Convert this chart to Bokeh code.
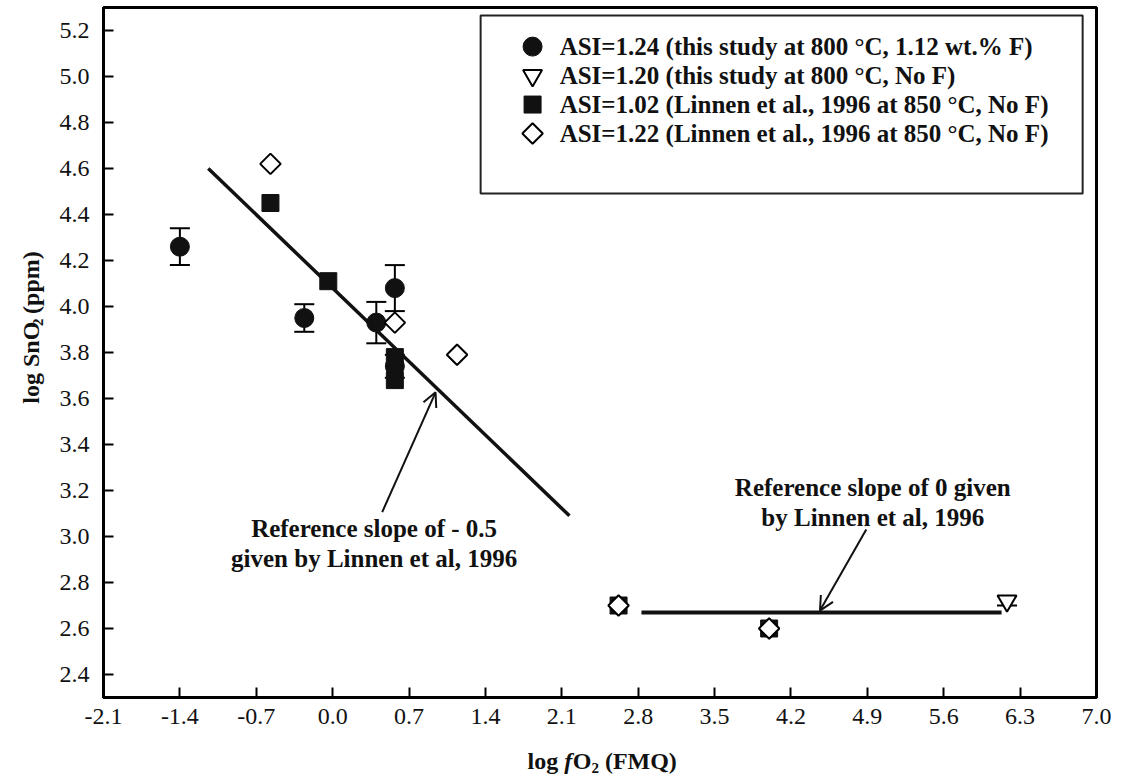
import numpy as np
from bokeh.plotting import figure
from bokeh.layouts import row, column
from bokeh.models import (Range1d, FixedTicker, PrintfTickFormatter, Whisker, TeeHead,
                          Arrow, OpenHead, ColumnDataSource)
from bokeh.core.properties import value
from bokeh.embed import file_html
from bokeh.resources import INLINE

# ---- data: log fO2 (FMQ) vs log SnO2 (ppm) ----
# ASI=1.24, this study, 800 °C, 1.12 wt.% F (with 1-sigma error bars)
circle_x = [-1.40, -0.26, 0.40, 0.57, 0.57]
circle_y = [4.26, 3.95, 3.93, 4.08, 3.74]
circle_err = [0.08, 0.06, 0.09, 0.10, 0.05]

# ASI=1.20, this study, 800 °C, no F
triangle_x = [6.18]
triangle_y = [2.72]
triangle_err = [0.02]

# ASI=1.02, Linnen et al. (1996), 850 °C, no F
square_x = [-0.57, -0.04, 0.57, 0.57, 2.62, 4.00]
square_y = [4.45, 4.11, 3.78, 3.68, 2.70, 2.60]

# ASI=1.22, Linnen et al. (1996), 850 °C, no F
diamond_x = [-0.57, 0.57, 1.14, 2.62, 4.00]
diamond_y = [4.62, 3.93, 3.79, 2.70, 2.60]

# reference slopes from Linnen et al. (1996)
slope_line_x = [-1.14, 2.17]
slope_line_y = [4.60, 3.09]
flat_line_x = [2.83, 6.13]
flat_line_y = [2.67, 2.67]

x_ticks = [-2.1, -1.4, -0.7, 0.0, 0.7, 1.4, 2.1, 2.8, 3.5, 4.2, 4.9, 5.6, 6.3, 7.0]
y_ticks = [2.4, 2.6, 2.8, 3.0, 3.2, 3.4, 3.6, 3.8, 4.0, 4.2, 4.4, 4.6, 4.8, 5.0, 5.2]

legend_labels = [
    "ASI=1.24 (this study at  800 °C, 1.12 wt.% F)",
    "ASI=1.20 (this study at 800 °C, No F)",
    "ASI=1.02 (Linnen et al., 1996 at 850 °C, No F)",
    "ASI=1.22 (Linnen et al., 1996 at 850 °C, No F)",
]

SERIF = "Liberation Serif"
W, H = 1124, 782
YT_W = 52          # strip for the vertical axis title
XT_H = 40          # strip for the horizontal axis title
MAIN_W, MAIN_H = W - YT_W, H - XT_H

p = figure(width=MAIN_W, height=MAIN_H, output_backend="svg", toolbar_location=None,
           x_range=Range1d(-2.1, 7.0), y_range=Range1d(2.3, 5.3),
           min_border_left=103 - YT_W, min_border_right=28,
           min_border_top=7, min_border_bottom=MAIN_H - 697)
p.background_fill_color = "white"
p.border_fill_color = "white"
p.outline_line_color = "black"
p.outline_line_width = 3
p.xgrid.visible = False
p.ygrid.visible = False

for ax, ticks, standoff in ((p.xaxis, x_ticks, 11), (p.yaxis, y_ticks, 14)):
    ax.ticker = FixedTicker(ticks=ticks)
    ax.formatter = PrintfTickFormatter(format="%.1f")
    ax.axis_line_width = 3
    ax.axis_line_color = "black"
    ax.major_tick_in = 10
    ax.major_tick_out = 0
    ax.major_tick_line_width = 2
    ax.major_tick_line_color = "black"
    ax.minor_tick_line_color = None
    ax.major_label_text_font = SERIF
    ax.major_label_text_font_size = "24px"
    ax.major_label_text_color = "#111111"
    ax.major_label_standoff = standoff

# reference lines
p.line(slope_line_x, slope_line_y, line_color="#111111", line_width=3.5)
p.line(flat_line_x, flat_line_y, line_color="#111111", line_width=4)

# error bars
def add_errors(xs, ys, errs):
    src = ColumnDataSource(dict(x=xs,
                                lo=[y - e for y, e in zip(ys, errs)],
                                hi=[y + e for y, e in zip(ys, errs)]))
    w = Whisker(source=src, base="x", lower="lo", upper="hi", dimension="height",
                line_color="black", line_width=2, level="underlay",
                upper_head=TeeHead(size=20, line_width=2, line_color="black"),
                lower_head=TeeHead(size=20, line_width=2, line_color="black"))
    p.add_layout(w)

add_errors(circle_x, circle_y, circle_err)
add_errors(triangle_x, triangle_y, triangle_err)

# markers
CIRCLE = dict(marker="circle", size=19, fill_color="#111111", line_color="#111111")
TRIANGLE = dict(marker="inverted_triangle", size=19, fill_color="white",
                line_color="black", line_width=2)
SQUARE = dict(marker="square", size=17, fill_color="#111111", line_color="#111111")
DIAMOND = dict(marker="square", angle=np.pi / 4, size=14.5, fill_color="white",
               line_color="black", line_width=2)

p.scatter(circle_x, circle_y, **CIRCLE)
p.scatter(triangle_x, triangle_y, **TRIANGLE)
p.scatter(square_x, square_y, **SQUARE)
p.scatter(diamond_x, diamond_y, **DIAMOND)

# annotations
TXT = dict(text_font=value(SERIF), text_font_style="bold", text_font_size="25px",
           text_color="#111111", text_align="center", text_baseline="middle")
p.text(x=[0.38, 0.38], y=[3.035, 2.905],
       text=["Reference slope of - 0.5", "given by Linnen et al, 1996"], **TXT)
p.text(x=[4.95, 4.95], y=[3.213, 3.083],
       text=["Reference slope of 0 given", "by Linnen et al, 1996"], **TXT)

p.add_layout(Arrow(end=OpenHead(size=14, line_width=2, line_color="#111111"),
                   x_start=0.454, y_start=3.106, x_end=0.943, y_end=3.627,
                   line_width=2, line_color="#111111"))
p.add_layout(Arrow(end=OpenHead(size=14, line_width=2, line_color="#111111"),
                   x_start=4.89, y_start=3.03, x_end=4.466, y_end=2.678,
                   line_width=2, line_color="#111111"))

# legend box
p.quad(left=1.356, right=6.873, top=5.265, bottom=4.491,
       fill_color="white", line_color="#222222", line_width=2)
leg_rows = [5.130, 5.004, 4.878, 4.752]
leg_mx, leg_tx = 1.832, 2.08
for style, yy in zip((CIRCLE, TRIANGLE, SQUARE, DIAMOND), leg_rows):
    p.scatter([leg_mx], [yy], **style)
p.text(x=[leg_tx] * 4, y=leg_rows, text=legend_labels,
       **dict(TXT, text_align="left", text_font_size="25px"))


# axis titles: strips whose data units are pixels, so the italic f and the
# subscript 2 can be set piece by piece
def title_strip(width, height):
    f = figure(width=width, height=height, output_backend="svg", toolbar_location=None,
               x_range=Range1d(0, width), y_range=Range1d(0, height),
               x_axis_type=None, y_axis_type=None, min_border=0)
    f.outline_line_color = None
    f.xgrid.visible = False
    f.ygrid.visible = False
    f.background_fill_color = "white"
    f.border_fill_color = "white"
    return f


def piece(fig, x, y, text, size="24px", style="bold", angle=0.0):
    fig.text(x=[x], y=[y], text=[text], angle=angle, text_font=value(SERIF),
             text_font_style=style, text_font_size=size, text_color="#111111",
             text_align="left", text_baseline="middle")


# horizontal title strip; y measured upward from the strip's bottom edge
xt = title_strip(W, XT_H)
x0, mid = 527, H - 760
piece(xt, x0, mid, "log")
piece(xt, x0 + 36.7, mid, "f", style="bold italic")
piece(xt, x0 + 45.2, mid, "O")
piece(xt, x0 + 63.9, mid - 7, "2", size="15px")
piece(xt, x0 + 77.4, mid, "(FMQ)")

# vertical title strip; text reads bottom to top
yt = title_strip(YT_W, MAIN_H)
start, cx = MAIN_H - 426, 30
piece(yt, cx, start, "log SnO", angle=np.pi / 2)
piece(yt, cx + 7, start + 83.5, "2", size="15px", angle=np.pi / 2)
piece(yt, cx, start + 96.5, "(ppm)", angle=np.pi / 2)

layout = column(row(yt, p), xt)
open("out.html", "w").write(file_html(layout, INLINE))
